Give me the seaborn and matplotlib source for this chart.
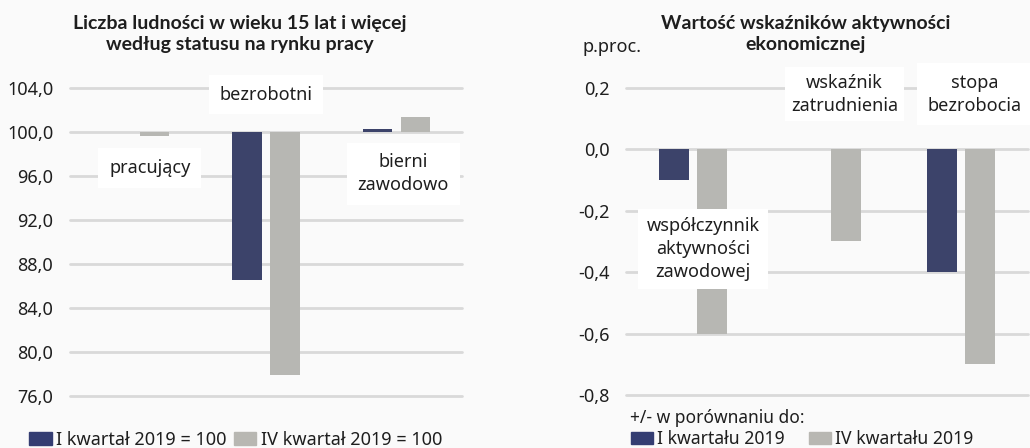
import matplotlib
matplotlib.use("Agg")
import matplotlib.pyplot as plt
import matplotlib.patches as mpatches
import seaborn as sns
import pandas as pd

# ---- data ----
left_categories = ["pracujący", "bezrobotni", "bierni\nzawodowo"]
left_series = ["I kwartał 2019 = 100", "IV kwartał 2019 = 100"]
left_q1 = [100.0, 86.5, 100.3]
left_q4 = [99.6, 77.9, 101.4]
left_ticks = [76.0, 80.0, 84.0, 88.0, 92.0, 96.0, 100.0, 104.0]

right_categories = ["współczynnik\naktywności\nzawodowej", "wskaźnik\nzatrudnienia", "stopa\nbezrobocia"]
right_series = ["I kwartału 2019", "IV kwartału 2019"]
right_q1 = [-0.1, 0.0, -0.4]
right_q4 = [-0.6, -0.3, -0.7]
right_ticks = [-0.8, -0.6, -0.4, -0.2, 0.0, 0.2]

NAVY = "#343d72"
GREY = "#b8b7b2"
BG = "#fafafa"
TXT = "#1e1e1e"
GRID = "#d9d9d9"

sns.set_theme(style="white")
plt.rcParams["font.family"] = ["Noto Sans", "DejaVu Sans"]
plt.rcParams["text.color"] = TXT

fig = plt.figure(figsize=(10.30, 4.48), dpi=100, facecolor=BG)

def fmt(v, dec):
    return f"{v:.{dec}f}".replace(".", ",")

left_df = pd.DataFrame({
    "cat": left_categories * 2,
    "series": [left_series[0]] * 3 + [left_series[1]] * 3,
    "dev": [v - 100 for v in left_q1] + [v - 100 for v in left_q4],
})
right_df = pd.DataFrame({
    "cat": right_categories * 2,
    "series": [right_series[0]] * 3 + [right_series[1]] * 3,
    "val": right_q1 + right_q4,
})

H = 448.0
W = 1030.0
axL = fig.add_axes([70 / W, 1 - 396 / H, (462 - 70) / W, (396 - 88) / H])
axR = fig.add_axes([626 / W, 1 - 395 / H, (1028 - 626) / W, (395 - 88) / H])
for ax in (axL, axR):
    ax.set_facecolor("none")

sns.barplot(data=left_df, x="cat", y="dev", hue="series", order=left_categories,
            hue_order=left_series, palette=[NAVY, GREY], width=0.58, gap=0.23,
            bottom=100, legend=False, ax=axL, zorder=2, linewidth=0)
sns.barplot(data=right_df, x="cat", y="val", hue="series", order=right_categories,
            hue_order=right_series, palette=[NAVY, GREY], width=0.58, gap=0.23,
            legend=False, ax=axR, zorder=2, linewidth=0)

axL.set_ylim(76, 104)
axL.set_yticks(left_ticks)
axL.set_yticklabels([fmt(t, 1) for t in left_ticks])
axR.set_ylim(-0.8, 0.2)
axR.set_yticks(right_ticks)
axR.set_yticklabels([fmt(t, 1) for t in right_ticks])

for ax in (axL, axR):
    ax.set_xlim(-0.5, 2.5)
    ax.set_xticks([])
    ax.set_xlabel("")
    ax.set_ylabel("")
    for s in ax.spines.values():
        s.set_visible(False)
    ax.grid(axis="y", color=GRID, linewidth=2, zorder=0)
    ax.set_axisbelow(True)
    ax.tick_params(axis="y", length=0, pad=12, labelsize=13, labelcolor=TXT)
    for gl in ax.get_ygridlines():
        gl.set_clip_on(False)

def box(pad):
    return dict(boxstyle=f"square,pad={pad}", fc="white", ec="none")

lab_kw = dict(ha="center", va="center", fontsize=13, color=TXT, zorder=5, linespacing=1.35)
# left labels
axL.text(1.0, 103.4, left_categories[1], bbox=box(0.6), **lab_kw)
axL.text(0.11, 96.7, left_categories[0], bbox=box(0.6), **lab_kw)
axL.text(2.05, 96.2, left_categories[2], bbox=box(0.6), **lab_kw)
# right labels
axR.text(0.075, -0.325, right_categories[0], bbox=box(0.45), **lab_kw)
axR.text(1.13, 0.18, right_categories[1], bbox=box(0.35), **lab_kw)
axR.text(2.10, 0.18, right_categories[2], bbox=box(0.6), **lab_kw)

# titles
title_kw = dict(ha="center", va="center", fontsize=14, fontweight="bold",
                linespacing=1.3, color=TXT, family=["Lato", "DejaVu Sans"])
fig.text(240 / W, 1 - 34 / H, "Liczba ludności w wieku 15 lat i więcej\nwedług statusu na rynku pracy", **title_kw)
fig.text(806 / W, 1 - 34 / H, "Wartość wskaźników aktywności\nekonomicznej", **title_kw)
fig.text(583 / W, 1 - 47 / H, "p.proc.", ha="left", va="center", fontsize=13, color=TXT)

# legends
hL = [mpatches.Patch(color=NAVY, label=left_series[0]), mpatches.Patch(color=GREY, label=left_series[1])]
fig.legend(handles=hL, loc="center left", bbox_to_anchor=(29 / W, 1 - 440 / H), ncol=2,
           frameon=False, fontsize=13, handlelength=1.25, handleheight=0.7,
           handletextpad=0.25, columnspacing=0.4, borderpad=0, borderaxespad=0)
fig.text(630 / W, 1 - 418 / H, "+/- w porównaniu do:", ha="left", va="center", fontsize=12.5, color=TXT)
hR = [mpatches.Patch(color=NAVY, label=right_series[0]), mpatches.Patch(color=GREY, label=right_series[1])]
fig.legend(handles=hR, loc="center left", bbox_to_anchor=(631 / W, 1 - 439 / H), ncol=2,
           frameon=False, fontsize=12.7, handlelength=1.25, handleheight=0.7,
           handletextpad=0.25, columnspacing=1.35, borderpad=0, borderaxespad=0)

fig.savefig("out.png", dpi=100, facecolor=BG)
